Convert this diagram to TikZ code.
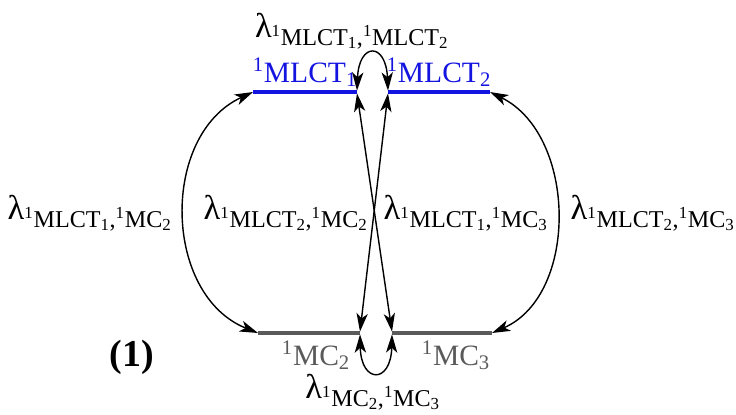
\documentclass[tikz,border=0pt]{standalone}
\usepackage{fontspec}
\setmainfont{Liberation Serif}
\usetikzlibrary{arrows.meta}
\definecolor{levblue}{RGB}{20,20,225}
\definecolor{levgray}{RGB}{90,90,90}
\newcommand{\st}[2]{\textsuperscript{1}#1\textsubscript{#2}}
\newcommand{\lam}[2]{λ\textsubscript{\textsuperscript{1}#1,\textsuperscript{1}#2}}

\begin{document}
\begin{tikzpicture}[x=0.025cm, y=-0.025cm, >={Stealth[length=13pt,width=8pt,inset=3.5pt]},
  font=\fontsize{21}{25}\selectfont,
  level/.style={line width=2.6pt},
  rate/.style={<->, line width=1pt},
  lbl/.style={inner sep=0pt},
  lamlbl/.style={font=\fontsize{24.5}{28}\selectfont}]
  \useasboundingbox (0,0) rectangle (736,414);
  % level end points
  \coordinate (t1l) at (253,92);  \coordinate (t1r) at (357,92);
  \coordinate (t2l) at (388,92);  \coordinate (t2r) at (490,92);
  \coordinate (c2l) at (258,333); \coordinate (c2r) at (360,333);
  \coordinate (c3l) at (392,333); \coordinate (c3r) at (492,333);
  % levels
  \draw[level, levblue] (t1l) -- (t1r);
  \draw[level, levblue] (t2l) -- (t2r);
  \draw[level, levgray] (c2l) -- (c2r);
  \draw[level, levgray] (c3l) -- (c3r);
  \node[lbl, anchor=south, text=levblue] (T1) at (305,87) {\st{MLCT}{1}};
  \node[lbl, anchor=south, text=levblue] (T2) at (439,87) {\st{MLCT}{2}};
  \node[lbl, anchor=north, text=levgray] (C2) at (316,341) {\st{MC}{2}};
  \node[lbl, anchor=north, text=levgray] (C3) at (456,341) {\st{MC}{3}};
  % couplings
  \draw[rate] (t1l) .. controls (160,135) and (163,295) .. (c2l);
  \draw[rate] (t2r) .. controls (577,135) and (579,295) .. (c3r);
  \draw[rate] ([yshift=-1pt]t1r) -- ([yshift=1pt]c3l);
  \draw[rate] ([yshift=-1pt]t2l) -- ([yshift=1pt]c2r);
  \draw[rate] ([yshift=1pt]t1r) .. controls (359,42) and (386,42) .. ([yshift=1pt]t2l);
  \draw[rate] ([yshift=-1pt]c2r) .. controls (361,384) and (391,384) .. ([yshift=-1pt]c3l);
  \node[lamlbl] (Ltop) at (352,31) {\lam{MLCT\textsubscript{1}}{MLCT\textsubscript{2}}};
  \node[lamlbl] (Lleft) at (90,213) {\lam{MLCT\textsubscript{1}}{MC\textsubscript{2}}};
  \node[lamlbl] (Lmidl) at (286,213) {\lam{MLCT\textsubscript{2}}{MC\textsubscript{2}}};
  \node[lamlbl] (Lmidr) at (466,213) {\lam{MLCT\textsubscript{1}}{MC\textsubscript{3}}};
  \node[lamlbl] (Lright) at (653,213) {\lam{MLCT\textsubscript{2}}{MC\textsubscript{3}}};
  \node[lamlbl] (Lbot) at (373,392) {\lam{MC\textsubscript{2}}{MC\textsubscript{3}}};
  \node[font=\fontsize{27}{31}\selectfont\bfseries] (num) at (132,357) {(1)};
\end{tikzpicture}
\end{document}
